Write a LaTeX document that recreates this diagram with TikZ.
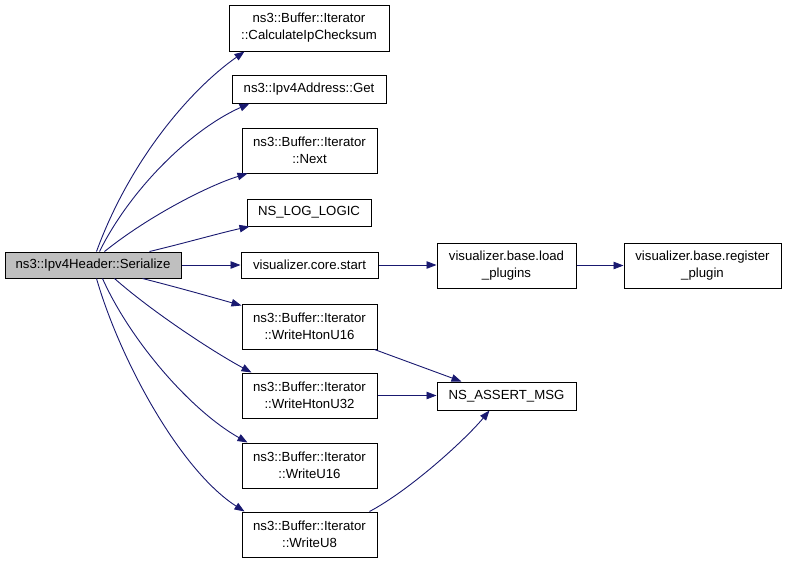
\documentclass[tikz,border=0pt]{standalone}
\usepackage{fontspec}
\setmainfont{Liberation Sans}
\usetikzlibrary{arrows.meta}
\definecolor{edgeblue}{HTML}{191970}
\definecolor{mainfill}{HTML}{BFBFBF}
\begin{document}
\begin{tikzpicture}[x=1pt,y=-1pt,
  box/.style={draw=black, line width=1pt, inner sep=0pt, align=center,
    font=\fontsize{13.2}{17}\selectfont},
  edge/.style={draw=edgeblue, line width=0.9pt,
    -{Triangle[length=10pt,width=7.5pt]}}]
\useasboundingbox (0,0) rectangle (787,563);
% nodes
\node[box, fill=mainfill, minimum width=176pt, minimum height=26pt] (ser) at (93,265) {ns3::Ipv4Header::Serialize};
\node[box, minimum width=160pt, minimum height=46pt] (chk) at (309,28) {ns3::Buffer::Iterator\\::CalculateIpChecksum};
\node[box, minimum width=154pt, minimum height=28pt] (get) at (309,89) {ns3::Ipv4Address::Get};
\node[box, minimum width=135pt, minimum height=45pt] (nxt) at (309.5,150.5) {ns3::Buffer::Iterator\\::Next};
\node[box, minimum width=124pt, minimum height=27pt] (log) at (309,212.5) {NS\_LOG\_LOGIC};
\node[box, minimum width=137pt, minimum height=26pt] (cst) at (309.5,265) {visualizer.core.start};
\node[box, minimum width=135pt, minimum height=45pt] (h16) at (309.5,326.5) {ns3::Buffer::Iterator\\::WriteHtonU16};
\node[box, minimum width=135pt, minimum height=45pt] (h32) at (309.5,395.5) {ns3::Buffer::Iterator\\::WriteHtonU32};
\node[box, minimum width=135pt, minimum height=45pt] (u16) at (309.5,465.5) {ns3::Buffer::Iterator\\::WriteU16};
\node[box, minimum width=135pt, minimum height=45pt] (u8) at (309.5,534.5) {ns3::Buffer::Iterator\\::WriteU8};
\node[box, minimum width=139pt, minimum height=45pt] (lp) at (506.5,265.5) {visualizer.base.load\\\_plugins};
\node[box, minimum width=157pt, minimum height=45pt] (rp) at (702.5,265.5) {visualizer.base.register\\\_plugin};
\node[box, minimum width=139pt, minimum height=28pt] (am) at (506.5,396) {NS\_ASSERT\_MSG};
% edges from Serialize
\draw[edge] ([xshift=92pt]ser.north west) .. controls (130,160) and (190,90) .. ([xshift=16pt]chk.south west);
\draw[edge] ([xshift=95pt]ser.north west) .. controls (130,190) and (190,130) .. ([xshift=18pt]get.south west);
\draw[edge] ([xshift=100pt]ser.north west) .. controls (150,215) and (210,185) .. ([xshift=6pt]nxt.south west);
\draw[edge] ([xshift=145pt]ser.north west) .. controls (185,243) and (220,233) .. ([xshift=3pt]log.south west);
\draw[edge] (ser.east) -- (cst.west);
\draw[edge] ([xshift=138pt]ser.south west) .. controls (180,288) and (215,298) .. ([yshift=-2pt]h16.north west);
\draw[edge] ([xshift=110pt]ser.south west) .. controls (150,310) and (210,350) .. ([xshift=10pt]h32.north west);
\draw[edge] ([xshift=98pt]ser.south west) .. controls (130,340) and (190,410) .. ([xshift=6pt]u16.north west);
\draw[edge] ([xshift=92pt]ser.south west) .. controls (120,360) and (180,470) .. ([xshift=3pt]u8.north west);
% second level
\draw[edge] (cst.east) -- (cst.east -| lp.west);
\draw[edge] (lp.east) -- (rp.west);
\draw[edge] ([xshift=-3pt]h16.south east) -- ([xshift=25pt]am.north west);
\draw[edge] (h32.east) -- (h32.east -| am.west);
\draw[edge] ([xshift=-8pt]u8.north east) .. controls (410,490) and (465,440) .. ([xshift=53pt]am.south west);
\end{tikzpicture}
\end{document}
